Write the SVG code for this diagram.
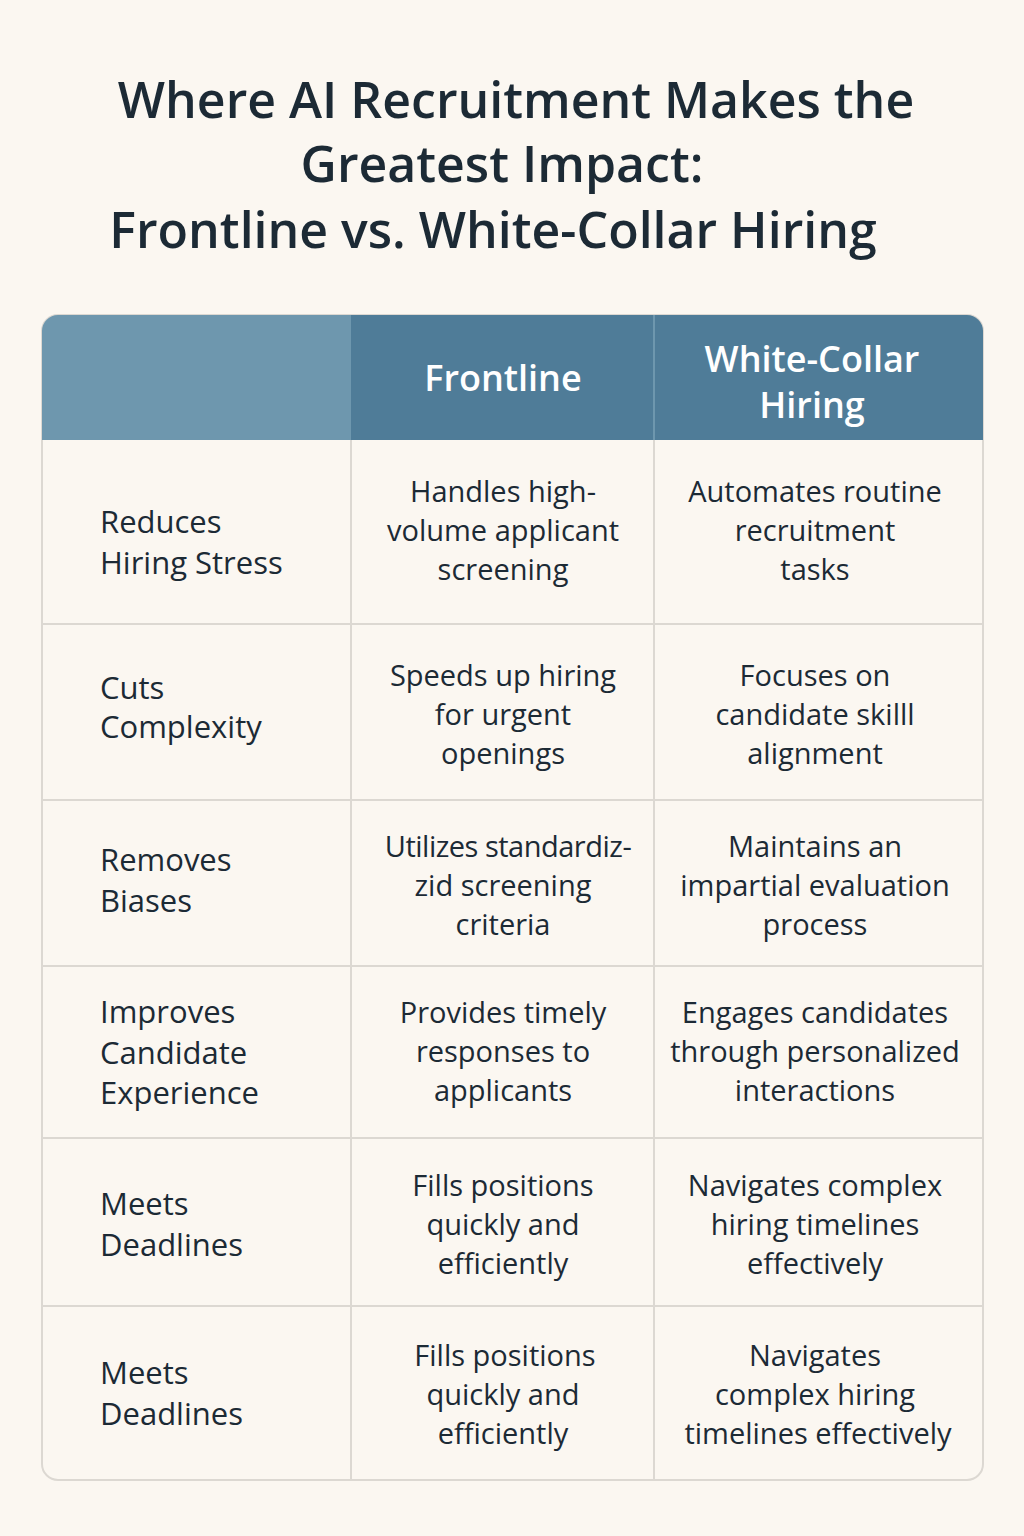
<svg xmlns="http://www.w3.org/2000/svg" width="1024" height="1536" viewBox="0 0 1024 1536">
<style>
.t{font-family:"Open Sans","Noto Sans",sans-serif;fill:#1c2a35}
.title{font-size:50px;font-weight:600;text-anchor:middle}
.h{font-size:36px;font-weight:600;fill:#fff;text-anchor:middle}
.lab{font-size:31px;font-weight:500}
.c{font-size:29px;text-anchor:middle}
.ln{stroke:#dcd8d2;stroke-width:2;fill:none}
</style>
<rect width="1024" height="1536" fill="#fbf7f1"/>
<g id="title">
<text class="t title" x="516" y="118">Where AI Recruitment Makes the</text>
<text class="t title" x="502" y="182">Greatest Impact:</text>
<text class="t title" x="493" y="248">Frontline vs. White-Collar Hiring</text>
</g>
<g id="table">
<rect x="42" y="315" width="941" height="1165" rx="16" fill="#fbf7f1" stroke="#dcd8d2" stroke-width="2"/>
<path d="M58 315 H351 V440 H42 V331 A16 16 0 0 1 58 315Z" fill="#6e97ae"/>
<path d="M351 315 H967 A16 16 0 0 1 983 331 V440 H351Z" fill="#4f7c98"/>
<line x1="654" y1="315" x2="654" y2="440" stroke="#6e97ae" stroke-width="2"/>
<g class="ln">
<line x1="351" y1="440" x2="351" y2="1480"/>
<line x1="654" y1="440" x2="654" y2="1480"/>
<line x1="42" y1="624" x2="983" y2="624"/>
<line x1="42" y1="800" x2="983" y2="800"/>
<line x1="42" y1="966" x2="983" y2="966"/>
<line x1="42" y1="1138" x2="983" y2="1138"/>
<line x1="42" y1="1306" x2="983" y2="1306"/>
</g>
<text class="t h" x="503" y="391">Frontline</text>
<text class="t h" x="812" y="372">White-Collar</text>
<text class="t h" x="812" y="418">Hiring</text>
</g>
<g id="r1">
<text class="t lab" x="100" y="533">Reduces</text><text class="t lab" x="100" y="574">Hiring Stress</text>
<text class="t c" x="503" y="502">Handles high-</text><text class="t c" x="503" y="541">volume applicant</text><text class="t c" x="503" y="580">screening</text>
<text class="t c" x="815" y="502">Automates routine</text><text class="t c" x="815" y="541">recruitment</text><text class="t c" x="815" y="580">tasks</text>
</g>
<g id="r2">
<text class="t lab" x="100" y="699">Cuts</text><text class="t lab" x="100" y="738">Complexity</text>
<text class="t c" x="503" y="686">Speeds up hiring</text><text class="t c" x="503" y="725">for urgent</text><text class="t c" x="503" y="764">openings</text>
<text class="t c" x="815" y="686">Focuses on</text><text class="t c" x="815" y="725">candidate skilll</text><text class="t c" x="815" y="764">alignment</text>
</g>
<g id="r3">
<text class="t lab" x="100" y="871">Removes</text><text class="t lab" x="100" y="912">Biases</text>
<text class="t c" x="508" y="857" style="letter-spacing:-0.5px">Utilizes standardiz-</text><text class="t c" x="503" y="896">zid screening</text><text class="t c" x="503" y="935">criteria</text>
<text class="t c" x="815" y="857">Maintains an</text><text class="t c" x="815" y="896">impartial evaluation</text><text class="t c" x="815" y="935">process</text>
</g>
<g id="r4">
<text class="t lab" x="100" y="1023">Improves</text><text class="t lab" x="100" y="1064">Candidate</text><text class="t lab" x="100" y="1104">Experience</text>
<text class="t c" x="503" y="1023">Provides timely</text><text class="t c" x="503" y="1062">responses to</text><text class="t c" x="503" y="1101">applicants</text>
<text class="t c" x="815" y="1023">Engages candidates</text><text class="t c" x="815" y="1062">through personalized</text><text class="t c" x="815" y="1101">interactions</text>
</g>
<g id="r5">
<text class="t lab" x="100" y="1215">Meets</text><text class="t lab" x="100" y="1256">Deadlines</text>
<text class="t c" x="503" y="1196">Fills positions</text><text class="t c" x="503" y="1235">quickly and</text><text class="t c" x="503" y="1274">efficiently</text>
<text class="t c" x="815" y="1196">Navigates complex</text><text class="t c" x="815" y="1235">hiring timelines</text><text class="t c" x="815" y="1274">effectively</text>
</g>
<g id="r6">
<text class="t lab" x="100" y="1384">Meets</text><text class="t lab" x="100" y="1425">Deadlines</text>
<text class="t c" x="505" y="1366">Fills positions</text><text class="t c" x="503" y="1405">quickly and</text><text class="t c" x="503" y="1444">efficiently</text>
<text class="t c" x="815" y="1366">Navigates</text><text class="t c" x="815" y="1405">complex hiring</text><text class="t c" x="818" y="1444">timelines effectively</text>
</g>
</svg>
